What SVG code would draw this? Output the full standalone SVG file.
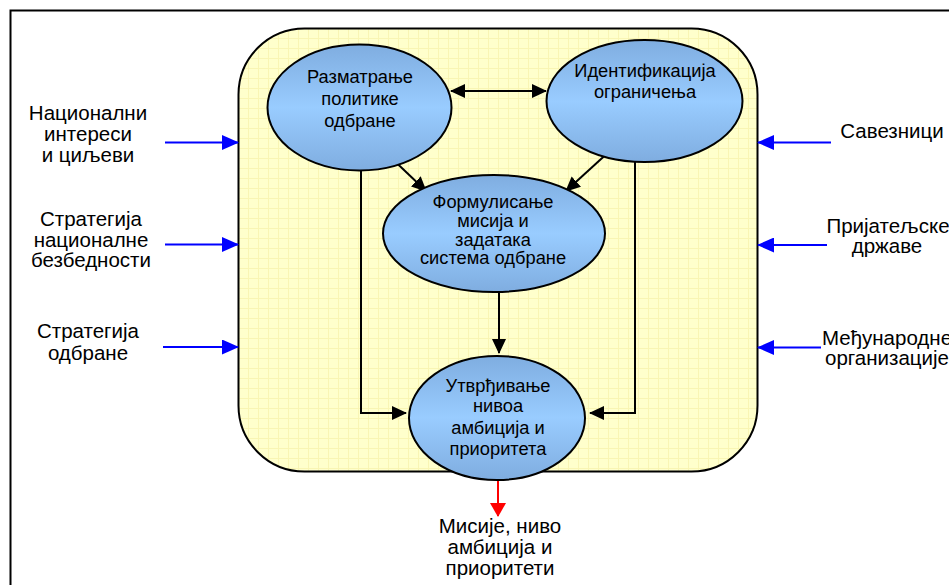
<svg xmlns="http://www.w3.org/2000/svg" width="949" height="585" viewBox="0 0 949 585">
<defs>
<pattern id="grid" width="10" height="10" patternUnits="userSpaceOnUse" x="238" y="28">
<rect width="10" height="10" fill="#FFFFCC"/>
<path d="M0 0.5H10M0.5 0V10" stroke="#F9F5B4" stroke-width="1" fill="none"/>
</pattern>
<linearGradient id="blue" x1="0" y1="0" x2="0" y2="1">
<stop offset="0" stop-color="#7FADE0"/>
<stop offset="0.5" stop-color="#99CCFF"/>
<stop offset="1" stop-color="#7FADE0"/>
</linearGradient>
<marker id="ab" markerWidth="15" markerHeight="14" refX="14" refY="7" orient="auto" markerUnits="userSpaceOnUse">
<path d="M0 0L15 7L0 14Z" fill="#000"/>
</marker>
<marker id="abs" markerWidth="15" markerHeight="14" refX="1" refY="7" orient="auto" markerUnits="userSpaceOnUse">
<path d="M15 0L0 7L15 14Z" fill="#000"/>
</marker>
<marker id="bl" markerWidth="17" markerHeight="15" refX="16" refY="7.5" orient="auto" markerUnits="userSpaceOnUse">
<path d="M0 0L17 7.5L0 15Z" fill="#0000FF"/>
</marker>
<marker id="rd" markerWidth="14" markerHeight="16" refX="13" refY="8" orient="auto" markerUnits="userSpaceOnUse">
<path d="M0 0L14 8L0 16Z" fill="#FF0000"/>
</marker>
</defs>
<style>
text{font-family:"Liberation Sans",Arial,sans-serif;fill:#000;text-anchor:middle}
.big{font-size:20.5px}
.nd{font-size:18.3px}
.el{fill:url(#blue);stroke:#000;stroke-width:2}
.k{stroke:#000;stroke-width:2;fill:none}
.b{stroke:#0000FF;stroke-width:2;fill:none}
</style>
<rect x="0" y="0" width="949" height="585" fill="#FFFFFF"/>
<path d="M10.5 585V10.5H949" fill="none" stroke="#000" stroke-width="2"/>
<rect id="frame" x="238.5" y="28.5" width="519" height="443" rx="66" ry="66" fill="url(#grid)" stroke="#000" stroke-width="2"/>

<g id="connectors">
<line class="k" x1="451" y1="91" x2="546" y2="91" marker-start="url(#abs)" marker-end="url(#ab)"/>
<line class="k" x1="361" y1="129" x2="426" y2="191" marker-end="url(#ab)"/>
<line class="k" x1="635" y1="128" x2="566" y2="191" marker-end="url(#ab)"/>
<line class="k" x1="499" y1="292" x2="499" y2="353" marker-end="url(#ab)"/>
<polyline class="k" points="361,129 361,413 406,413" marker-end="url(#ab)"/>
<polyline class="k" points="635,128 635,413 590,413" marker-end="url(#ab)"/>
<line stroke="#FF0000" stroke-width="2" x1="498" y1="472" x2="498" y2="516" marker-end="url(#rd)"/>
<line class="b" x1="165" y1="142.5" x2="238" y2="142.5" marker-end="url(#bl)"/>
<line class="b" x1="165" y1="244.5" x2="238" y2="244.5" marker-end="url(#bl)"/>
<line class="b" x1="163" y1="347" x2="238" y2="347" marker-end="url(#bl)"/>
<line class="b" x1="831" y1="142.5" x2="758" y2="142.5" marker-end="url(#bl)"/>
<line class="b" x1="827" y1="245" x2="758" y2="245" marker-end="url(#bl)"/>
<line class="b" x1="821" y1="347.5" x2="758" y2="347.5" marker-end="url(#bl)"/>
</g>

<g id="n1">
<ellipse class="el" cx="359.5" cy="107.5" rx="92" ry="63"/>
<text class="nd" x="360" y="83">Разматрање</text>
<text class="nd" x="360" y="105">политике</text>
<text class="nd" x="360" y="127">одбране</text>
</g>
<g id="n2">
<ellipse class="el" cx="644.5" cy="101" rx="98" ry="61"/>
<text class="nd" x="645" y="77">Идентификација</text>
<text class="nd" x="645" y="98">ограничења</text>
</g>
<g id="n3">
<ellipse class="el" cx="494" cy="233.5" rx="111" ry="58.5"/>
<text class="nd" x="493" y="208">Формулисање</text>
<text class="nd" x="493" y="227">мисија и</text>
<text class="nd" x="493" y="246">задатака</text>
<text class="nd" x="493" y="264">система одбране</text>
</g>
<g id="n4">
<ellipse class="el" cx="497" cy="418" rx="88" ry="62"/>
<text class="nd" x="498" y="392">Утврђивање</text>
<text class="nd" x="498" y="412">нивоа</text>
<text class="nd" x="498" y="434">амбиција и</text>
<text class="nd" x="498" y="455">приоритета</text>
</g>

<g id="in1">
<text class="big" x="88" y="120">Национални</text>
<text class="big" x="88" y="141">интереси</text>
<text class="big" x="88" y="162">и циљеви</text>
</g>
<g id="in2">
<text class="big" x="91" y="226">Стратегија</text>
<text class="big" x="91" y="247">националне</text>
<text class="big" x="91" y="267">безбедности</text>
</g>
<g id="in3">
<text class="big" x="88" y="338">Стратегија</text>
<text class="big" x="88" y="360">одбране</text>
</g>
<g id="in4">
<text class="big" x="892" y="138">Савезници</text>
</g>
<g id="in5">
<text class="big" x="888" y="233">Пријатељске</text>
<text class="big" x="887" y="253">државе</text>
</g>
<g id="in6">
<text class="big" x="887" y="345">Међународне</text>
<text class="big" x="887" y="365">организације</text>
</g>
<g id="out">
<text class="big" x="500" y="533">Мисије, ниво</text>
<text class="big" x="500" y="554">амбиција и</text>
<text class="big" x="500" y="575">приоритети</text>
</g>
</svg>
